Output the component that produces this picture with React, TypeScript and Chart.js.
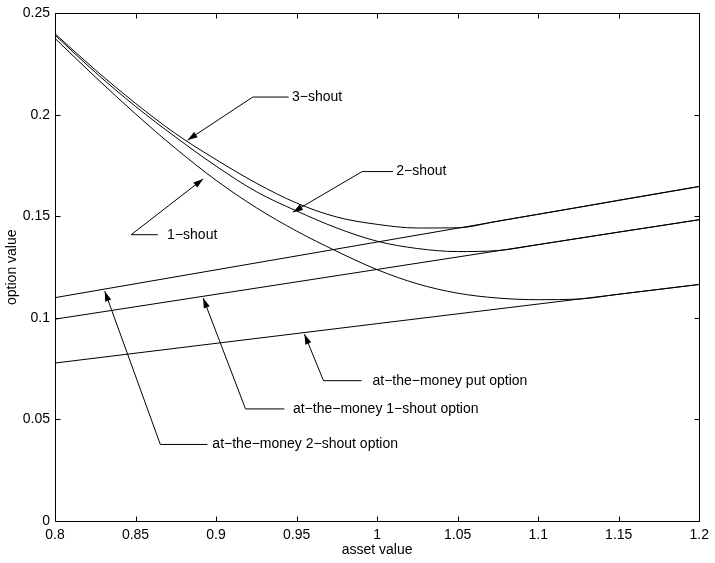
import { useEffect, useRef } from 'react';
import { Chart, registerables } from 'chart.js';

Chart.register(...registerables);

// ---- data ----
const assetGrid = [0.8, 0.825, 0.85, 0.875, 0.9, 0.925, 0.95, 0.975, 1.0, 1.025, 1.05, 1.075, 1.1, 1.125, 1.15, 1.175, 1.2];
const shout3 = [0.2400, 0.2222, 0.2057, 0.1907, 0.1780, 0.1664, 0.1566, 0.1497, 0.1461, 0.1443, 0.1444, 0.1477, 0.1511, 0.1545, 0.1580, 0.1614, 0.1648];
const shout2 = [0.2393, 0.2210, 0.2042, 0.1890, 0.1748, 0.1622, 0.1527, 0.1443, 0.1378, 0.1342, 0.1327, 0.1332, 0.1361, 0.1392, 0.1423, 0.1453, 0.1484];
const shout1 = [0.2377, 0.2187, 0.2005, 0.1834, 0.1678, 0.1543, 0.1428, 0.1328, 0.1238, 0.1168, 0.1122, 0.1098, 0.1090, 0.1093, 0.1117, 0.1141, 0.1165];

const atmGrid = [0.8, 1.0, 1.2];
const atm2Shout = [0.1100, 0.1374, 0.1647];
const atm1Shout = [0.0994, 0.1239, 0.1484];
const atmPut = [0.0778, 0.0972, 0.1165];

const xTickValues = [0.8, 0.85, 0.9, 0.95, 1.0, 1.05, 1.1, 1.15, 1.2];
const xTickLabels = ['0.8', '0.85', '0.9', '0.95', '1', '1.05', '1.1', '1.15', '1.2'];
const yTickValues = [0, 0.05, 0.1, 0.15, 0.2, 0.25];
const yTickLabels = ['0', '0.05', '0.1', '0.15', '0.2', '0.25'];

// annotation arrows, in data coordinates
const annotations = [
  { text: '3\u2212shout', tipX: 0.8823, tipY: 0.1876, elbowX: 0.9228, elbowY: 0.2088, lineEndX: 0.9451, textX: 0.9471 },
  { text: '2\u2212shout', tipX: 0.9477, tipY: 0.1521, elbowX: 0.9907, elbowY: 0.1721, lineEndX: 1.0099, textX: 1.0119 },
  { text: '1\u2212shout', tipX: 0.8920, tipY: 0.1685, elbowX: 0.8473, elbowY: 0.1410, lineEndX: 0.8638, textX: 0.8696 },
  { text: 'at\u2212the\u2212money put option', tipX: 0.9549, tipY: 0.0920, elbowX: 0.9667, elbowY: 0.0691, lineEndX: 0.9903, textX: 0.9971 },
  { text: 'at\u2212the\u2212money 1\u2212shout option', tipX: 0.8920, tipY: 0.1098, elbowX: 0.9183, elbowY: 0.0552, lineEndX: 0.9424, textX: 0.9477 },
  { text: 'at\u2212the\u2212money 2\u2212shout option', tipX: 0.8309, tipY: 0.1132, elbowX: 0.8654, elbowY: 0.0377, lineEndX: 0.8946, textX: 0.8977 },
];

const FONT = "'Liberation Sans', Arial, Helvetica, sans-serif";

const toPoints = (xs: number[], ys: number[]) => xs.map((x, i) => ({ x, y: ys[i] }));

const framePlugin = {
  id: 'matlabFrame',
  afterDraw(chart: any) {
    const { ctx, chartArea, scales } = chart;
    const { left, right, top, bottom } = chartArea;
    const xs = scales.x;
    const ys = scales.y;
    ctx.save();
    ctx.strokeStyle = '#000';
    ctx.lineWidth = 1;
    const L = Math.round(left) + 0.5;
    const R = Math.round(right) + 0.5;
    const T = Math.round(top) + 0.5;
    const B = Math.round(bottom) + 0.5;
    ctx.beginPath();
    ctx.rect(L, T, R - L, B - T);
    ctx.stroke();
    const tl = 5;
    ctx.beginPath();
    xTickValues.forEach((v) => {
      const px = Math.round(xs.getPixelForValue(v)) + 0.5;
      ctx.moveTo(px, B); ctx.lineTo(px, B - tl);
      ctx.moveTo(px, T); ctx.lineTo(px, T + tl);
    });
    yTickValues.forEach((v) => {
      const py = Math.round(ys.getPixelForValue(v)) + 0.5;
      ctx.moveTo(L, py); ctx.lineTo(L + tl, py);
      ctx.moveTo(R, py); ctx.lineTo(R - tl, py);
    });
    ctx.stroke();

    // annotations
    ctx.font = `14px ${FONT}`;
    ctx.fillStyle = '#000';
    ctx.textBaseline = 'middle';
    ctx.textAlign = 'left';
    annotations.forEach((a) => {
      const tx = xs.getPixelForValue(a.tipX);
      const ty = ys.getPixelForValue(a.tipY);
      const ex = xs.getPixelForValue(a.elbowX);
      const ey = ys.getPixelForValue(a.elbowY);
      const lx = xs.getPixelForValue(a.lineEndX);
      const txtX = xs.getPixelForValue(a.textX);
      ctx.beginPath();
      ctx.moveTo(lx, ey);
      ctx.lineTo(ex, ey);
      ctx.lineTo(tx, ty);
      ctx.stroke();
      const ang = Math.atan2(ty - ey, tx - ex);
      const len = 10;
      const hw = 3.2;
      const bx = tx - len * Math.cos(ang);
      const by = ty - len * Math.sin(ang);
      ctx.beginPath();
      ctx.moveTo(tx, ty);
      ctx.lineTo(bx + hw * Math.sin(ang), by - hw * Math.cos(ang));
      ctx.lineTo(bx - hw * Math.sin(ang), by + hw * Math.cos(ang));
      ctx.closePath();
      ctx.fill();
      ctx.fillText(a.text, txtX, ey);
    });
    ctx.restore();
  },
};

export default function App() {
  const ref = useRef<HTMLCanvasElement>(null);
  useEffect(() => {
    if (!ref.current) return;
    const lineStyle = { borderColor: '#000', borderWidth: 1, pointRadius: 0, pointHoverRadius: 0, fill: false };
    const chart = new Chart(ref.current, {
      type: 'line',
      data: {
        datasets: [
          { label: '3-shout', data: toPoints(assetGrid, shout3), cubicInterpolationMode: 'monotone', ...lineStyle },
          { label: '2-shout', data: toPoints(assetGrid, shout2), cubicInterpolationMode: 'monotone', ...lineStyle },
          { label: '1-shout', data: toPoints(assetGrid, shout1), cubicInterpolationMode: 'monotone', ...lineStyle },
          { label: 'at-the-money 2-shout option', data: toPoints(atmGrid, atm2Shout), tension: 0, ...lineStyle },
          { label: 'at-the-money 1-shout option', data: toPoints(atmGrid, atm1Shout), tension: 0, ...lineStyle },
          { label: 'at-the-money put option', data: toPoints(atmGrid, atmPut), tension: 0, ...lineStyle },
        ] as any,
      },
      options: {
        responsive: false,
        animation: false,
        devicePixelRatio: 1,
        layout: { padding: { top: 11, right: 12, left: 0, bottom: 0 } },
        plugins: { legend: { display: false }, tooltip: { enabled: false } },
        events: [],
        scales: {
          x: {
            type: 'linear',
            min: 0.8,
            max: 1.2,
            grid: { display: false, drawTicks: false },
            border: { display: false },
            afterBuildTicks: (s: any) => { s.ticks = xTickValues.map((v) => ({ value: v })); },
            afterFit: (s: any) => { s.height = 42; },
            ticks: {
              autoSkip: false,
              maxRotation: 0,
              padding: 6,
              color: '#000',
              font: { family: FONT, size: 14 },
              callback: (_v: any, i: number) => xTickLabels[i],
            },
            title: { display: true, text: 'asset value', color: '#000', font: { family: FONT, size: 14 }, padding: { top: 0, bottom: 4.6 } },
          },
          y: {
            type: 'linear',
            min: 0,
            max: 0.25,
            grid: { display: false, drawTicks: false },
            border: { display: false },
            afterBuildTicks: (s: any) => { s.ticks = yTickValues.map((v) => ({ value: v })); },
            afterFit: (s: any) => { s.width = 55; },
            ticks: {
              autoSkip: false,
              padding: 5,
              color: '#000',
              font: { family: FONT, size: 14 },
              callback: (_v: any, i: number) => yTickLabels[i],
            },
            title: { display: true, text: 'option value', color: '#000', font: { family: FONT, size: 14 }, padding: { top: 4.1, bottom: 0 } },
          },
        },
      },
      plugins: [framePlugin],
    } as any);
    return () => chart.destroy();
  }, []);
  return (
    <div style={{ position: 'absolute', left: 0, top: 0, width: 715, height: 563, background: '#fff' }}>
      <canvas ref={ref} width={715} height={563} style={{ display: 'block' }} />
    </div>
  );
}
